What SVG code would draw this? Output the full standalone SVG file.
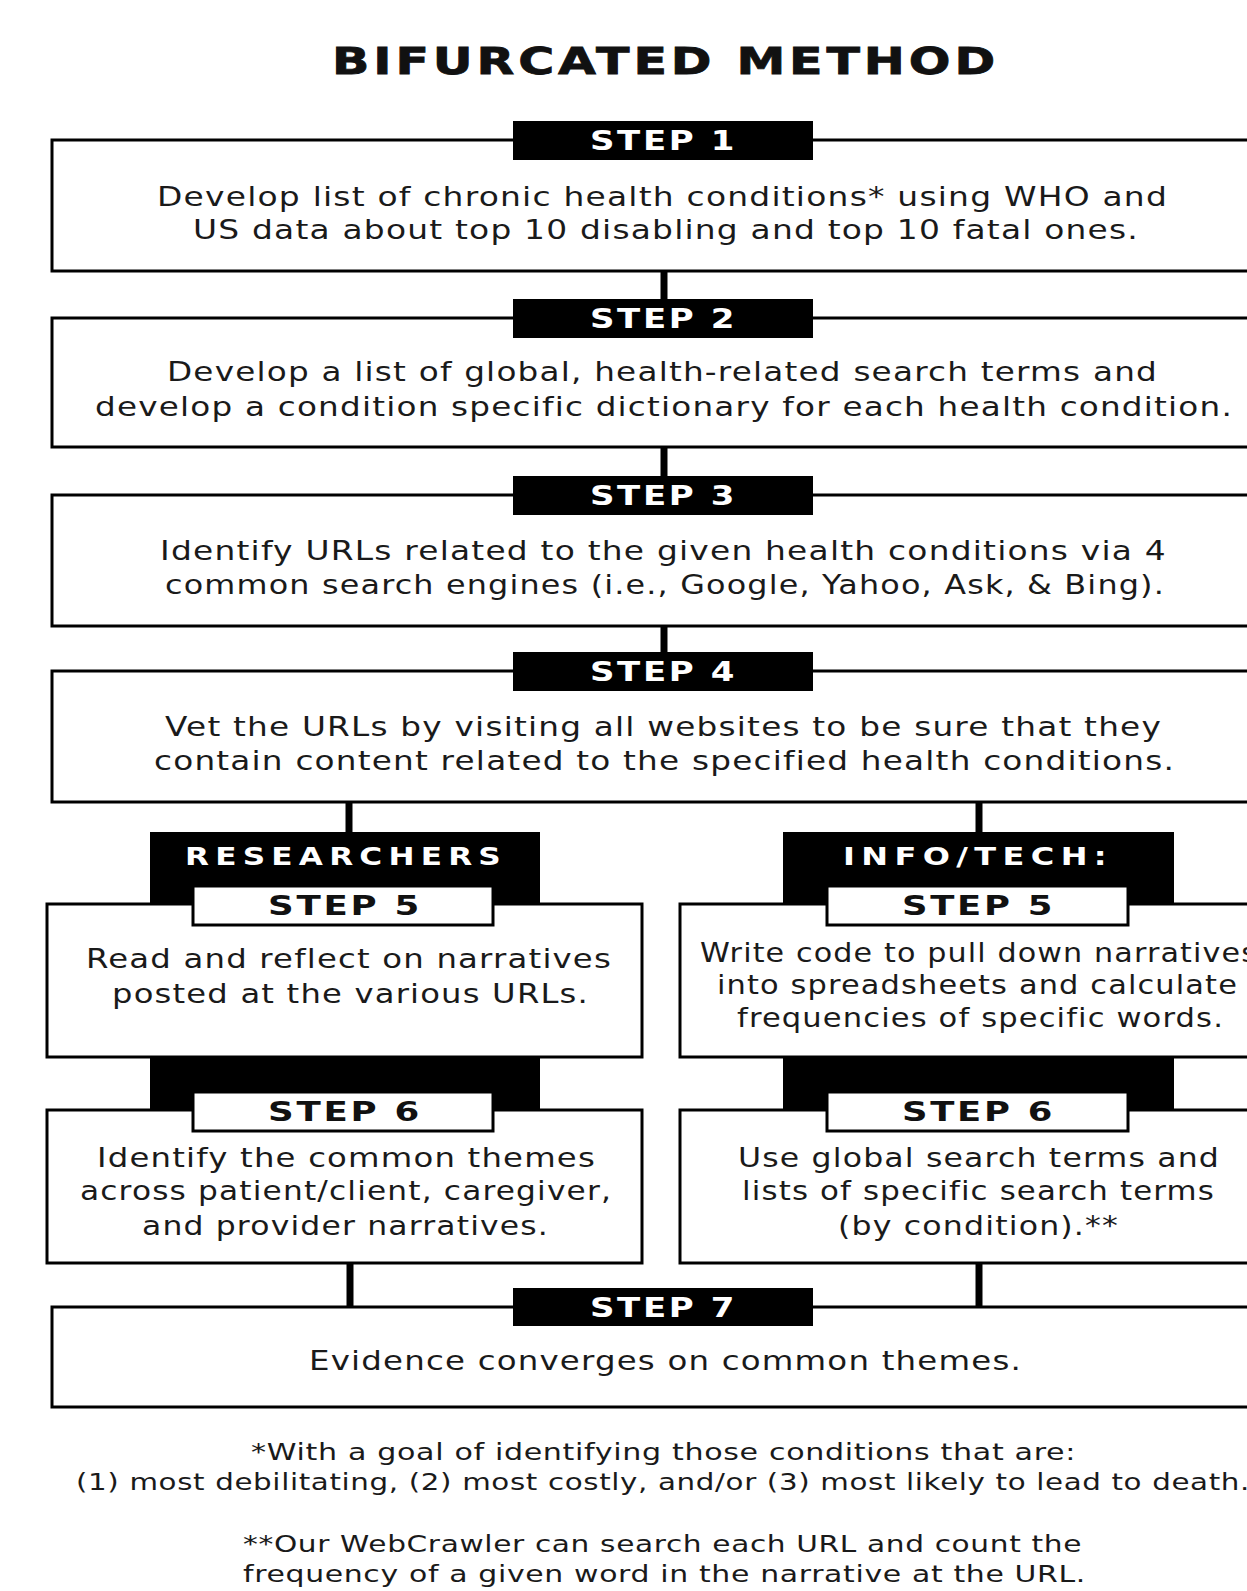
<svg xmlns="http://www.w3.org/2000/svg" width="1247" height="1591" viewBox="0 0 1247 1591">
<style>
.box{fill:#fff;stroke:#000;stroke-width:3}
.hdr{fill:#000}
.whdr{fill:#fff;stroke:#000;stroke-width:3}
.conn{stroke:#000;stroke-width:7;fill:none}
.title{font-family:"DejaVu Sans",sans-serif;font-weight:bold;font-size:38px;letter-spacing:3px;fill:#111;stroke:#111;stroke-width:0.8}
.ht{font-family:"DejaVu Sans",sans-serif;font-weight:bold;font-size:26px;letter-spacing:2px;fill:#fff}
.lbl{font-family:"DejaVu Sans",sans-serif;font-weight:bold;font-size:25px;letter-spacing:5px;fill:#fff}
.htb{font-family:"DejaVu Sans",sans-serif;font-weight:bold;font-size:26px;letter-spacing:2px;fill:#111}
.body{font-family:"DejaVu Sans",sans-serif;font-size:27px;letter-spacing:1px;fill:#1a1a1a}
.foot{font-family:"DejaVu Sans",sans-serif;font-size:23px;letter-spacing:0.5px;fill:#1a1a1a}
</style>
<rect width="1247" height="1591" fill="#fff"/>
<g id="title"><text class="title" x="332" y="74" textLength="667" lengthAdjust="spacingAndGlyphs">BIFURCATED METHOD</text></g>
<g id="connectors">
<line class="conn" x1="664" y1="271" x2="664" y2="300"/>
<line class="conn" x1="664" y1="447" x2="664" y2="477"/>
<line class="conn" x1="664" y1="626" x2="664" y2="653"/>
<line class="conn" x1="349" y1="802" x2="349" y2="833"/>
<line class="conn" x1="979" y1="802" x2="979" y2="833"/>
<line class="conn" x1="350" y1="1263" x2="350" y2="1307"/>
<line class="conn" x1="979" y1="1263" x2="979" y2="1307"/>
</g>
<g id="step1">
<rect class="box" x="52" y="140" width="1224" height="131"/>
<rect class="hdr" x="513" y="121" width="300" height="39"/>
<text class="ht" x="590" y="150" textLength="147" lengthAdjust="spacingAndGlyphs">STEP 1</text>
<text class="body" x="157" y="206" textLength="1011" lengthAdjust="spacingAndGlyphs">Develop list of chronic health conditions* using WHO and</text>
<text class="body" x="193" y="239" textLength="946" lengthAdjust="spacingAndGlyphs">US data about top 10 disabling and top 10 fatal ones.</text>
</g>
<g id="step2">
<rect class="box" x="52" y="318" width="1224" height="129"/>
<rect class="hdr" x="513" y="299" width="300" height="39"/>
<text class="ht" x="590" y="328" textLength="147" lengthAdjust="spacingAndGlyphs">STEP 2</text>
<text class="body" x="167" y="381" textLength="991" lengthAdjust="spacingAndGlyphs">Develop a list of global, health-related search terms and</text>
<text class="body" x="95" y="416" textLength="1138" lengthAdjust="spacingAndGlyphs">develop a condition specific dictionary for each health condition.</text>
</g>
<g id="step3">
<rect class="box" x="52" y="495" width="1224" height="131"/>
<rect class="hdr" x="513" y="476" width="300" height="39"/>
<text class="ht" x="590" y="505" textLength="147" lengthAdjust="spacingAndGlyphs">STEP 3</text>
<text class="body" x="160" y="560" textLength="1007" lengthAdjust="spacingAndGlyphs">Identify URLs related to the given health conditions via 4</text>
<text class="body" x="165" y="594" textLength="1000" lengthAdjust="spacingAndGlyphs">common search engines (i.e., Google, Yahoo, Ask, &amp; Bing).</text>
</g>
<g id="step4">
<rect class="box" x="52" y="671" width="1224" height="131"/>
<rect class="hdr" x="513" y="652" width="300" height="39"/>
<text class="ht" x="590" y="681" textLength="147" lengthAdjust="spacingAndGlyphs">STEP 4</text>
<text class="body" x="165" y="736" textLength="997" lengthAdjust="spacingAndGlyphs">Vet the URLs by visiting all websites to be sure that they</text>
<text class="body" x="154" y="770" textLength="1021" lengthAdjust="spacingAndGlyphs">contain content related to the specified health conditions.</text>
</g>
<g id="researchers">
<rect class="hdr" x="150" y="832" width="390" height="278"/>
<text class="lbl" x="185" y="865" textLength="322" lengthAdjust="spacingAndGlyphs">RESEARCHERS</text>
</g>
<g id="step5-researchers">
<rect class="box" x="47" y="904" width="595" height="153"/>
<rect class="whdr" x="193" y="886" width="300" height="39"/>
<text class="htb" x="268" y="915" textLength="154" lengthAdjust="spacingAndGlyphs">STEP 5</text>
<text class="body" x="86" y="968" textLength="526" lengthAdjust="spacingAndGlyphs">Read and reflect on narratives</text>
<text class="body" x="112" y="1003" textLength="477" lengthAdjust="spacingAndGlyphs">posted at the various URLs.</text>
</g>
<g id="step6-researchers">
<rect class="box" x="47" y="1110" width="595" height="153"/>
<rect class="whdr" x="193" y="1092" width="300" height="39"/>
<text class="htb" x="268" y="1121" textLength="154" lengthAdjust="spacingAndGlyphs">STEP 6</text>
<text class="body" x="97" y="1167" textLength="499" lengthAdjust="spacingAndGlyphs">Identify the common themes</text>
<text class="body" x="80" y="1200" textLength="532" lengthAdjust="spacingAndGlyphs">across patient/client, caregiver,</text>
<text class="body" x="142" y="1235" textLength="407" lengthAdjust="spacingAndGlyphs">and provider narratives.</text>
</g>
<g id="infotech">
<rect class="hdr" x="783" y="832" width="391" height="278"/>
<text class="lbl" x="843" y="865" textLength="270" lengthAdjust="spacingAndGlyphs">INFO/TECH:</text>
</g>
<g id="step5-infotech">
<rect class="box" x="680" y="904" width="600" height="153"/>
<rect class="whdr" x="827" y="886" width="301" height="39"/>
<text class="htb" x="902" y="915" textLength="153" lengthAdjust="spacingAndGlyphs">STEP 5</text>
<text class="body" x="700" y="962" textLength="558" lengthAdjust="spacingAndGlyphs">Write code to pull down narratives</text>
<text class="body" x="717" y="994" textLength="521" lengthAdjust="spacingAndGlyphs">into spreadsheets and calculate</text>
<text class="body" x="737" y="1027" textLength="487" lengthAdjust="spacingAndGlyphs">frequencies of specific words.</text>
</g>
<g id="step6-infotech">
<rect class="box" x="680" y="1110" width="600" height="153"/>
<rect class="whdr" x="827" y="1092" width="301" height="39"/>
<text class="htb" x="902" y="1121" textLength="153" lengthAdjust="spacingAndGlyphs">STEP 6</text>
<text class="body" x="738" y="1167" textLength="482" lengthAdjust="spacingAndGlyphs">Use global search terms and</text>
<text class="body" x="742" y="1200" textLength="473" lengthAdjust="spacingAndGlyphs">lists of specific search terms</text>
<text class="body" x="838" y="1235" textLength="281" lengthAdjust="spacingAndGlyphs">(by condition).**</text>
</g>
<g id="step7">
<rect class="box" x="52" y="1307" width="1224" height="100"/>
<rect class="hdr" x="513" y="1288" width="300" height="38"/>
<text class="ht" x="590" y="1317" textLength="147" lengthAdjust="spacingAndGlyphs">STEP 7</text>
<text class="body" x="309" y="1370" textLength="713" lengthAdjust="spacingAndGlyphs">Evidence converges on common themes.</text>
</g>
<g id="footnotes">
<text class="foot" x="251" y="1460" textLength="825" lengthAdjust="spacingAndGlyphs">*With a goal of identifying those conditions that are:</text>
<text class="foot" x="76" y="1490" textLength="1174" lengthAdjust="spacingAndGlyphs">(1) most debilitating, (2) most costly, and/or (3) most likely to lead to death.</text>
<text class="foot" x="243" y="1552" textLength="839" lengthAdjust="spacingAndGlyphs">**Our WebCrawler can search each URL and count the</text>
<text class="foot" x="243" y="1582" textLength="843" lengthAdjust="spacingAndGlyphs">frequency of a given word in the narrative at the URL.</text>
</g>
</svg>
